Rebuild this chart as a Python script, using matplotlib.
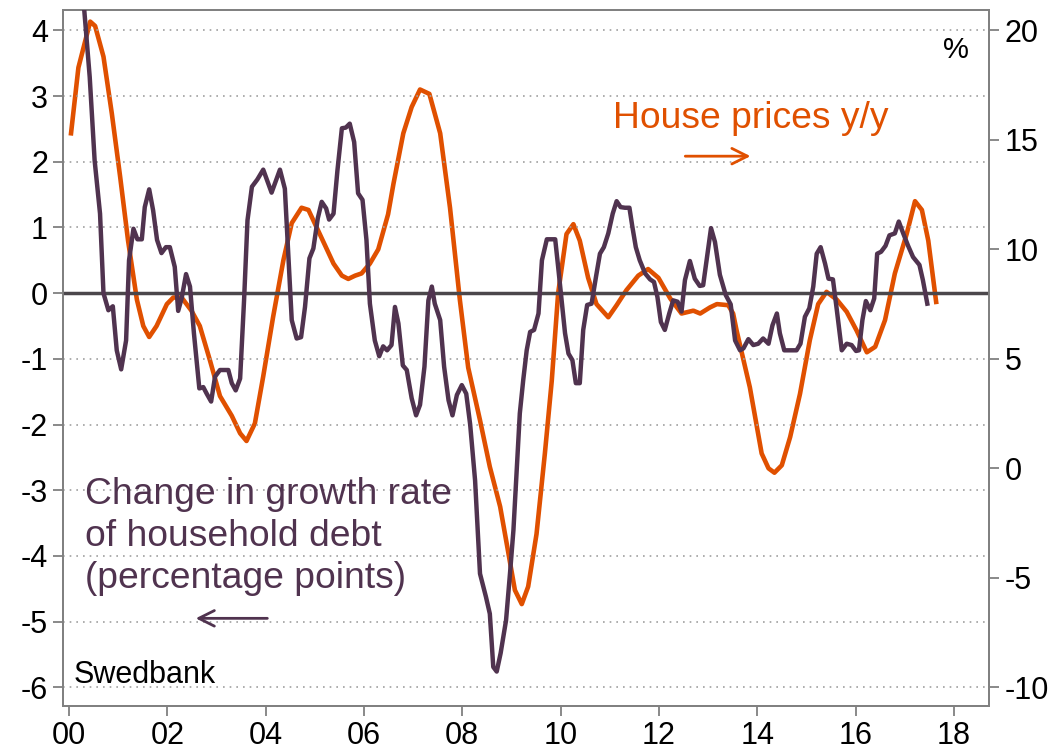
import numpy as np
import matplotlib
matplotlib.use("Agg")
import matplotlib.pyplot as plt

plt.rcParams['font.family'] = ['Liberation Sans', 'DejaVu Sans']
plt.rcParams['axes.unicode_minus'] = False

# House prices y/y (%), right axis
hp_year = [0.04, 0.19, 0.43, 0.53, 0.70, 0.87, 1.04, 1.20, 1.38, 1.51, 1.63, 1.78, 1.99,
           2.12, 2.29, 2.49, 2.66, 2.87, 3.07, 3.31, 3.48, 3.61, 3.78, 3.95, 4.15, 4.36,
           4.53, 4.73, 4.87, 5.10, 5.38, 5.55, 5.68, 5.82, 5.95, 6.12, 6.29, 6.49, 6.60,
           6.80, 6.97, 7.14, 7.33, 7.55, 7.75, 7.95, 8.12, 8.36, 8.56, 8.77, 8.94, 9.07,
           9.21, 9.34, 9.51, 9.68, 9.82, 9.95, 10.12, 10.26, 10.39, 10.56, 10.73, 10.97,
           11.14, 11.34, 11.58, 11.78, 11.99, 12.23, 12.46, 12.70, 12.84, 13.04, 13.18,
           13.41, 13.51, 13.58, 13.85, 14.09, 14.23, 14.35, 14.50, 14.67, 14.87, 15.07,
           15.24, 15.41, 15.62, 15.82, 16.02, 16.23, 16.40, 16.60, 16.80, 17.04, 17.21,
           17.35, 17.48, 17.64]
hp_yy = [15.3, 18.3, 20.4, 20.2, 18.8, 16.2, 13.3, 10.4, 7.7, 6.5, 6.0, 6.5, 7.5,
         7.8, 7.8, 7.2, 6.5, 4.9, 3.3, 2.4, 1.6, 1.25, 2.05, 4.2, 6.9, 9.5,
         11.2, 11.9, 11.8, 10.7, 9.35, 8.8, 8.65, 8.8, 8.9, 9.35, 10.0, 11.6, 13.0,
         15.3, 16.5, 17.3, 17.1, 15.3, 11.9, 7.7, 4.6, 2.2, 0.07, -1.75, -3.9, -5.56,
         -6.2, -5.4, -3.0, 0.68, 4.0, 8.0, 10.7, 11.15, 10.4, 8.7, 7.5, 6.9,
         7.45, 8.14, 8.8, 9.1, 8.7, 7.76, 7.07, 7.2, 7.07, 7.35, 7.5,
         7.45, 7.07, 6.3, 3.7, 0.68, 0.0, -0.2, 0.14, 1.43, 3.4, 5.85,
         7.5, 8.06, 7.7, 7.15, 6.3, 5.3, 5.55, 6.77, 8.9, 10.7, 12.2,
         11.8, 10.4, 7.6]

# Change in growth rate of household debt (percentage points), left axis
debt_year = [0.12, 0.31, 0.42, 0.52, 0.63, 0.70, 0.80, 0.89, 0.97, 1.06, 1.16, 1.22, 1.31,
             1.39, 1.48, 1.54, 1.63, 1.71, 1.79, 1.88, 1.97, 2.05, 2.15, 2.22, 2.29, 2.38,
             2.46, 2.54, 2.65, 2.73, 2.80, 2.89, 2.97, 3.07, 3.24, 3.31, 3.39, 3.48, 3.56,
             3.63, 3.72, 3.83, 3.95, 4.12, 4.29, 4.39, 4.46, 4.53, 4.63, 4.72, 4.80, 4.89,
             4.97, 5.06, 5.14, 5.23, 5.29, 5.38, 5.46, 5.55, 5.63, 5.71, 5.80, 5.88, 5.97,
             6.05, 6.12, 6.22, 6.31, 6.39, 6.47, 6.56, 6.63, 6.70, 6.79, 6.87, 6.97, 7.06,
             7.14, 7.23, 7.31, 7.38, 7.44, 7.55, 7.63, 7.72, 7.80, 7.89, 7.99, 8.08, 8.16,
             8.26, 8.36, 8.48, 8.56, 8.63, 8.70, 8.78, 8.89, 8.97, 9.04, 9.11, 9.17, 9.24,
             9.31, 9.38, 9.46, 9.55, 9.62, 9.72, 9.89, 9.95, 10.02, 10.09, 10.16, 10.24,
             10.31, 10.39, 10.46, 10.54, 10.63, 10.72, 10.80, 10.88, 10.97, 11.06, 11.14,
             11.22, 11.31, 11.40, 11.46, 11.53, 11.61, 11.72, 11.82, 11.90, 11.97, 12.04,
             12.12, 12.21, 12.29, 12.38, 12.46, 12.53, 12.63, 12.73, 12.83, 12.90, 12.97,
             13.06, 13.14, 13.24, 13.36, 13.46, 13.55, 13.65, 13.72, 13.82, 13.92, 14.02,
             14.12, 14.23, 14.31, 14.40, 14.46, 14.55, 14.80, 14.88, 14.97, 15.06, 15.14,
             15.21, 15.29, 15.38, 15.45, 15.54, 15.62, 15.72, 15.82, 15.92, 16.01, 16.07,
             16.14, 16.21, 16.30, 16.38, 16.44, 16.52, 16.61, 16.69, 16.80, 16.88, 16.97,
             17.07, 17.17, 17.30, 17.37, 17.46]
debt_chg = [5.2, 4.3, 3.29, 2.02, 1.21, 0.0, -0.26, -0.20, -0.87, -1.16, -0.72, 0.50, 0.98,
            0.82, 0.82, 1.31, 1.58, 1.26, 0.81, 0.61, 0.70, 0.70, 0.40, -0.27, -0.08, 0.29,
            0.10, -0.61, -1.45, -1.43, -1.53, -1.65, -1.27, -1.17, -1.17, -1.37, -1.48, -1.30, -0.11,
            1.11, 1.62, 1.73, 1.88, 1.53, 1.88, 1.59, 0.60, -0.41, -0.69, -0.67, -0.21, 0.53,
            0.68, 1.14, 1.39, 1.29, 1.12, 1.21, 1.87, 2.51, 2.52, 2.58, 2.30, 1.52, 1.42,
            0.81, -0.16, -0.72, -0.96, -0.81, -0.87, -0.79, -0.21, -0.46, -1.10, -1.17, -1.60, -1.86,
            -1.70, -1.12, -0.11, 0.10, -0.16, -0.41, -1.12, -1.63, -1.86, -1.55, -1.40, -1.53, -2.0,
            -2.85, -4.27, -4.62, -4.88, -5.69, -5.76, -5.48, -4.98, -4.27, -3.61, -2.64, -1.83, -1.32,
            -0.87, -0.59, -0.56, -0.31, 0.50, 0.82, 0.82, 0.40, -0.11, -0.61, -0.92, -1.02,
            -1.37, -1.37, -0.56, -0.18, -0.16, 0.25, 0.60, 0.70, 0.91, 1.21, 1.40,
            1.31, 1.30, 1.30, 1.01, 0.70, 0.50, 0.30, 0.21, 0.17, -0.06, -0.44,
            -0.56, -0.31, -0.11, -0.13, -0.28, 0.20, 0.49, 0.22, 0.11, 0.12, 0.50,
            0.99, 0.78, 0.28, -0.03, -0.17, -0.72, -0.87, -0.84, -0.70, -0.79, -0.77,
            -0.69, -0.77, -0.49, -0.31, -0.61, -0.87, -0.87, -0.77, -0.36, -0.23, 0.10,
            0.60, 0.70, 0.45, 0.22, 0.21, -0.26, -0.87, -0.77, -0.79, -0.88, -0.87,
            -0.41, -0.12, -0.26, -0.08, 0.60, 0.63, 0.72, 0.88, 0.91, 1.09, 0.91,
            0.72, 0.55, 0.43, 0.20, -0.16]

left_ticks = [-6, -5, -4, -3, -2, -1, 0, 1, 2, 3, 4]
right_ticks = [-10, -5, 0, 5, 10, 15, 20]
year_ticks = [0, 2, 4, 6, 8, 10, 12, 14, 16, 18]

ORANGE = '#E05000'
PURPLE = '#50334F'
GRAY = '#808080'

fig = plt.figure(figsize=(10.58, 7.53), dpi=100)
ax = fig.add_axes([0.0598, 0.0628, 0.8752, 0.9239])
ax2 = ax.twinx()
ax.set_zorder(ax2.get_zorder() + 1)
ax.patch.set_visible(False)

# scales: right = 3 * left + 8
ylo, yhi = -6.28, 4.31
ax.set_ylim(ylo, yhi)
ax2.set_ylim(3 * ylo + 8, 3 * yhi + 8)
ax.set_xlim(-0.118, 18.72)

for y in left_ticks:
    if y != 0:
        ax.axhline(y, color='#a0a0a0', lw=1.2, ls=(0, (1, 3)), zorder=1)
ax.axhline(0, color='#4B474B', lw=2.5, zorder=2)

ax2.plot(hp_year, hp_yy, color=ORANGE, lw=3.3, solid_joinstyle='round')
ax.plot(debt_year, debt_chg, color=PURPLE, lw=3.2, zorder=3, solid_joinstyle='round')

ax.set_yticks(left_ticks)
ax.set_yticklabels([str(v) for v in left_ticks])
ax2.set_yticks(right_ticks)
ax2.set_yticklabels([str(v) for v in right_ticks])
ax.set_xticks(year_ticks)
ax.set_xticklabels([f"{v:02d}" for v in year_ticks])

for a in (ax, ax2):
    for s in a.spines.values():
        s.set_color(GRAY)
        s.set_linewidth(1.3)
    a.tick_params(direction='out', length=7, width=1.3, color=GRAY,
                  labelsize=22, labelcolor='black', pad=4)

# annotations
ax.text(11.07, 2.51, 'House prices y/y', color=ORANGE, fontsize=26.8, va='baseline', ha='left')
ax.annotate('', xy=(13.92, 2.085), xytext=(12.48, 2.085),
            arrowprops=dict(arrowstyle='->', color=ORANGE, lw=2.0, mutation_scale=28))

debt_label = ['Change in growth rate', 'of household debt', '(percentage points)']
for i, line in enumerate(debt_label):
    ax.text(0.32, -3.21 - 0.64 * i, line, color=PURPLE, fontsize=26.8, va='baseline', ha='left')
ax.annotate('', xy=(2.52, -4.95), xytext=(4.09, -4.95),
            arrowprops=dict(arrowstyle='->', color=PURPLE, lw=2.0, mutation_scale=28))

ax.text(0.10, -5.94, 'Swedbank', color='black', fontsize=22, va='baseline', ha='left')
ax.text(17.78, 3.58, '%', color='black', fontsize=21, va='baseline', ha='left')

fig.savefig('out.png', dpi=100)
